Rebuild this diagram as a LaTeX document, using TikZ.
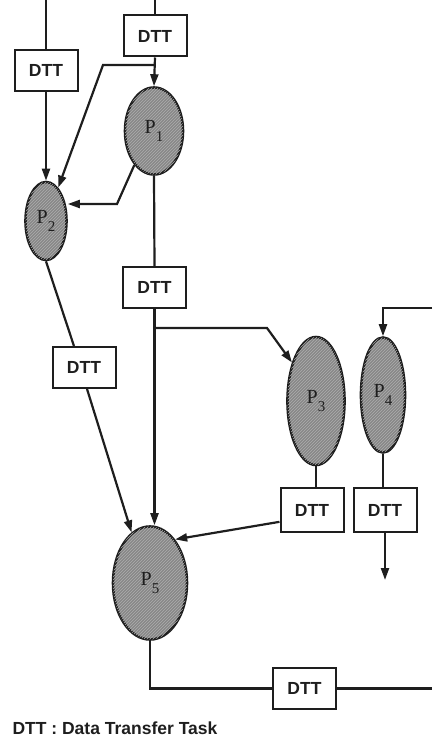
\documentclass[tikz,border=0pt]{standalone}
\usepackage{fontspec}
\setmainfont{Liberation Serif}
\newfontfamily\boxfont{Liberation Sans}
\usetikzlibrary{arrows.meta,shapes.geometric,patterns}
\definecolor{ink}{HTML}{1E1E1E}
\definecolor{procfill}{HTML}{878787}
\definecolor{hatch}{HTML}{AEAEAE}
\tikzset{
  dtt/.style={draw=ink, line width=2pt, rectangle, inner sep=0pt,
    minimum width=63pt, minimum height=41pt,
    font=\boxfont\bfseries\fontsize{17.5}{17.5}\selectfont, text=ink},
  proc/.style={draw=ink, line width=2.6pt, ellipse, inner sep=0pt,
    fill=procfill, postaction={pattern=north east lines, pattern color=hatch},
    text=ink},
  wire/.style={draw=ink, line width=2.2pt},
  flow/.style={wire, -{Triangle[length=12pt,width=8pt]}},
}
\newcommand{\pname}[1]{\fontsize{20}{20}\selectfont P\raisebox{-8pt}{\fontsize{15}{15}\selectfont #1}}
\begin{document}
\begin{tikzpicture}[x=1pt,y=-1pt]
\useasboundingbox (0,0) rectangle (432,741);

% transfer tasks
\node[dtt] (d1) at (46,70.5) {DTT};
\node[dtt] (d2) at (155,36) {DTT};
\node[dtt] (d3) at (154.5,287.5) {DTT};
\node[dtt] (d4) at (84,367.5) {DTT};
\node[dtt, minimum height=44pt] (d5) at (312,510) {DTT};
\node[dtt, minimum height=44pt] (d6) at (385,510) {DTT};
\node[dtt] (d7) at (304.5,688.5) {DTT};

% processes
\node[proc, minimum width=58pt, minimum height=87pt] (p1) at (154,131) {\pname{1}};
\node[proc, minimum width=41pt, minimum height=78pt] (p2) at (46,221) {\pname{2}};
\node[proc, minimum width=57pt, minimum height=128pt] (p3) at (316,401) {\pname{3}};
\node[proc, minimum width=44pt, minimum height=115pt] (p4) at (383,395) {\pname{4}};
\node[proc, minimum width=74pt, minimum height=113pt] (p5) at (150,583) {\pname{5}};

% free ends and bends
\coordinate (in1) at (46,0);
\coordinate (in2) at (155,0);
\coordinate (b1) at (155,65);
\coordinate (k1) at (103,65);
\coordinate (k2) at (117,204);
\coordinate (b3) at (154.5,328);
\coordinate (k3) at (267,328);
\coordinate (in4) at (432,308);
\coordinate (k4) at (383,308);
\coordinate (out6) at (385,580);
\coordinate (out7) at (432,688.5);

% connectors
\draw[wire] (in1) -- (d1.north);
\draw[flow] (d1.south) -- (p2.north);
\draw[wire] (in2) -- (d2.north);
\draw[flow] (d2.south) -- (p1.north);
\draw[flow] (b1) -- (k1) -- (p2);
\draw[flow] (p1.240) -- (k2) -- (p2.east |- k2);
\draw[wire] (p1.south) -- (d3.north);
\draw[flow] (d3.south) -- (d3.south |- p5.north);
\draw[flow] (b3) -- (k3) -- (p3.122);
\draw[flow] (in4) -- (k4) -- (p4.north);
\draw[wire] (p2.south) -- (d4.115);
\draw[flow] (d4.278) -- (p5.110);
\draw[wire] (p3.south) -- (p3.south |- d5.north);
\draw[wire] (p4.south) -- (p4.south |- d6.north);
\draw[flow] (d6.south) -- (out6);
\draw[flow] (d5.200) -- (p5.60);
\draw[wire] (p5.south) -- (p5.south |- d7.west) -- (d7.west);
\draw[wire] (d7.east) -- (out7);

% legend
\node[anchor=west, text=ink, font=\boxfont\bfseries\fontsize{17.5}{17.5}\selectfont] (legend) at (9,728) {DTT : Data Transfer Task};
\end{tikzpicture}
\end{document}
